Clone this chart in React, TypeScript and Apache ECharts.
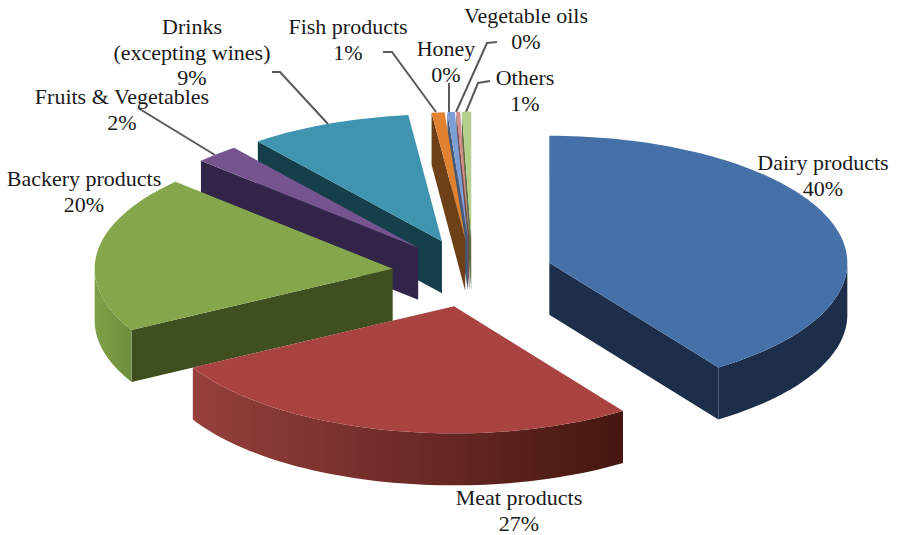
import React, { useEffect, useRef } from "react";
import * as echarts from "echarts";

// Shares of food industry output, in percent.
const categories = [
  "Dairy products",
  "Meat products",
  "Backery products",
  "Fruits & Vegetables",
  "Drinks\n(excepting wines)",
  "Fish products",
  "Honey",
  "Vegetable oils",
  "Others",
];
const shares = [40.4, 26.6, 20, 2.4, 8.8, 0.7, 0.4, 0.2, 0.5];

const topColors = ["#4671a8", "#a84341", "#86a64b", "#76558f", "#3f95b0", "#e0822f", "#7d9fd8", "#d48c8a", "#b4d08c"];
const wallColors = ["#1c2e4a", "#451710", "#3f4f20", "#33244a", "#163f4c", "#6e4018", "#465a78", "#6e4a48", "#5f7040"];
const rimStops: [string, string][] = [
  ["#1c2e4a", "#1c2e4a"],
  ["#96403c", "#451710"],
  ["#7f9f48", "#6f8f3e"],
  ["#33244a", "#33244a"],
  ["#163f4c", "#163f4c"],
  ["#6e4018", "#6e4018"],
  ["#465a78", "#465a78"],
  ["#6e4a48", "#6e4a48"],
  ["#5f7040", "#5f7040"],
];

// Back-to-front painting order of the slices.
const paintOrder = [8, 7, 6, 5, 4, 3, 2, 0, 1];

// Tilted disc projection.
const CX = 472.5;
const CY = 273;
const RX = 298;
const RY = 127;
const DEPTH = 52;
const EXPLODE = 0.27;

const FONT = '"Liberation Serif", "Times New Roman", serif';
const labelPlaces: [number, number][] = [
  [823, 163],
  [519, 498],
  [84, 179],
  [122, 97],
  [192, 27],
  [348, 27],
  [446, 49],
  [526, 16],
  [525, 78],
];
const leaderLines: [number, number][][] = [
  [[272, 72], [280, 72], [328, 124]],
  [[138, 108], [215, 155]],
  [[383, 52], [392, 52], [436, 112]],
  [[449, 83], [449, 112]],
  [[497, 42], [487, 43], [456, 112]],
  [[490, 81], [478, 83], [466, 112]],
];

const total = shares.reduce((a, b) => a + b, 0);
const rad = (share: number) => (share / total) * Math.PI * 2;

function sliceAngles(index: number) {
  const before = shares.slice(0, index).reduce((a, b) => a + b, 0);
  return [rad(before), rad(before + shares[index])];
}

function renderSlice(_params: unknown, api: any) {
  const index = api.value(0) as number;
  const start = api.value(1) as number;
  const end = api.value(2) as number;
  const mid = (start + end) / 2;
  const ax = CX + EXPLODE * RX * Math.sin(mid);
  const ay = CY - EXPLODE * RY * Math.cos(mid);
  const rimPoint = (t: number, drop = 0): number[] => [
    ax + RX * Math.sin(t),
    ay - RY * Math.cos(t) + drop,
  ];
  const arc = (from: number, to: number, drop = 0) => {
    const steps = Math.max(2, Math.ceil(((to - from) / Math.PI) * 120));
    const pts: number[][] = [];
    for (let i = 0; i <= steps; i++) pts.push(rimPoint(from + ((to - from) * i) / steps, drop));
    return pts;
  };
  const children: any[] = [];
  const wall = (t: number) => {
    children.push({
      type: "polygon",
      shape: { points: [[ax, ay], rimPoint(t), rimPoint(t, DEPTH), [ax, ay + DEPTH]] },
      style: { fill: wallColors[index] },
    });
  };
  if (Math.sin(start) < 0) wall(start);
  if (Math.sin(end) > 0) wall(end);

  const from = Math.max(start, Math.PI / 2);
  const to = Math.min(end, (Math.PI * 3) / 2);
  if (to > from) {
    children.push({
      type: "polygon",
      shape: { points: [...arc(from, to), ...arc(from, to, DEPTH).reverse()] },
      style: {
        fill: new echarts.graphic.LinearGradient(1, 0, 0, 0, [
          { offset: 0, color: rimStops[index][1] },
          { offset: 1, color: rimStops[index][0] },
        ]),
      },
    });
  }
  children.push({
    type: "polygon",
    shape: { points: [[ax, ay], ...arc(start, end)] },
    style: { fill: topColors[index] },
  });
  return { type: "group", children };
}

export default function App() {
  const ref = useRef<HTMLDivElement>(null);

  useEffect(() => {
    document.body.style.margin = "0";
    const chart = echarts.init(ref.current!, null, { renderer: "svg" });
    chart.setOption({
      animation: false,
      backgroundColor: "#ffffff",
      series: [
        {
          type: "custom",
          coordinateSystem: "none",
          silent: true,
          renderItem: renderSlice,
          encode: { value: [0, 1, 2] },
          data: paintOrder.map((i) => [i, ...sliceAngles(i)]),
        },
      ],
      graphic: [
        ...leaderLines.map((points) => ({
          type: "polyline",
          silent: true,
          shape: { points },
          style: { stroke: "#5a5a5a", lineWidth: 2, fill: "none" },
        })),
        ...categories.map((name, i) => ({
          type: "text",
          silent: true,
          x: labelPlaces[i][0],
          y: labelPlaces[i][1] - 13,
          style: {
            text: `${name}\n${Math.round(shares[i])}%`,
            font: `22px ${FONT}`,
            fill: "#1a1a1a",
            align: "center",
            verticalAlign: "top",
            lineHeight: 25.5,
          },
        })),
      ],
    });
    return () => chart.dispose();
  }, []);

  return <div ref={ref} style={{ width: 898, height: 535 }} />;
}
